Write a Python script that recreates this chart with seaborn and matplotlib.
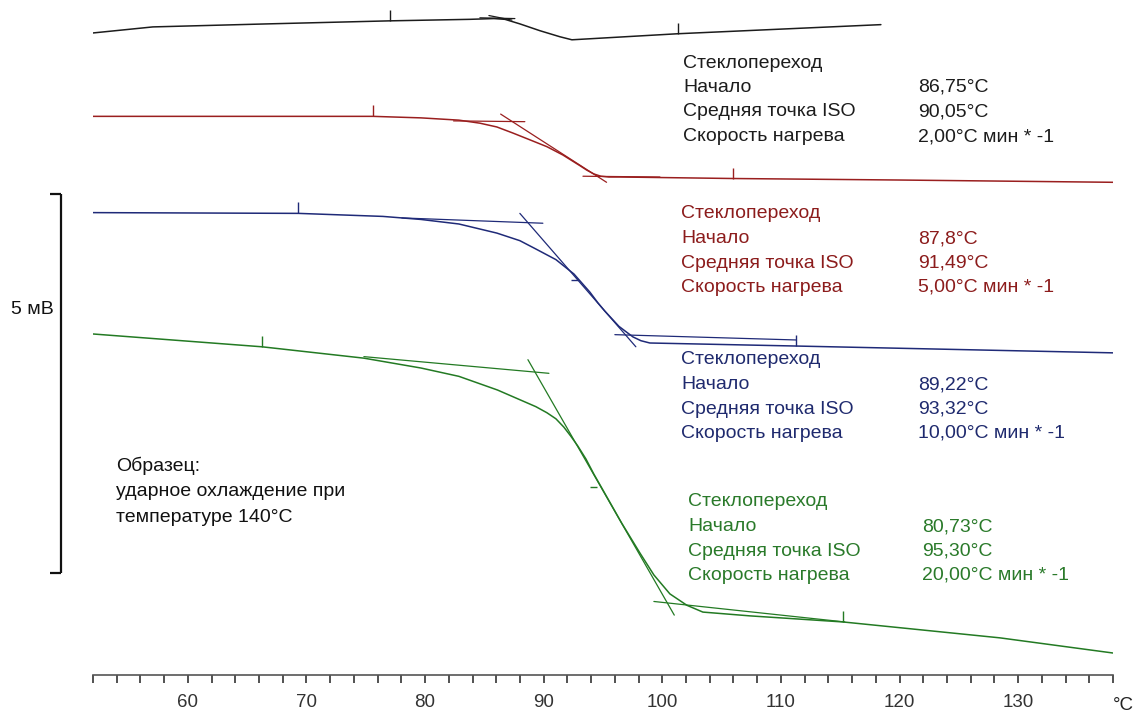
import matplotlib
matplotlib.use("Agg")
import matplotlib.pyplot as plt
import seaborn as sns
from matplotlib.ticker import MultipleLocator

# --- DSC curves: temperature (°C) and signal (mV, stacked offset) ---
t_black = [51.99, 57.05, 66.75, 77.03, 83.78, 85.80, 86.73, 87.99, 89.68, 91.37, 92.38, 101.32, 118.43]
mv_black = [8.47, 8.55, 8.59, 8.63, 8.65, 8.66, 8.65, 8.59, 8.50, 8.42, 8.38, 8.46, 8.58]

t_red = [51.99, 65.23, 75.60, 79.65, 82.85, 84.62, 86.05, 87.40, 88.84, 90.27, 91.62, 93.05,
         93.64, 94.23, 94.82, 95.49, 96.43, 105.95, 120.03, 138.0]
mv_red = [7.37, 7.37, 7.37, 7.35, 7.32, 7.28, 7.23, 7.15, 7.06, 6.97, 6.86, 6.72,
          6.66, 6.61, 6.58, 6.57, 6.57, 6.55, 6.53, 6.50]

t_blue = [51.99, 69.32, 76.44, 79.65, 82.85, 86.05, 87.99, 89.34, 91.03, 92.55, 93.90, 94.57,
          95.16, 95.75, 96.34, 96.93, 97.53, 98.20, 98.95, 111.27, 138.0]
mv_blue = [6.10, 6.09, 6.05, 6.01, 5.95, 5.83, 5.73, 5.62, 5.48, 5.29, 5.05, 4.91,
           4.80, 4.70, 4.60, 4.53, 4.46, 4.41, 4.38, 4.34, 4.25]

t_green = [51.91, 66.24, 74.84, 79.65, 82.85, 86.10, 89.34, 90.27, 91.03, 91.70, 92.29, 92.88,
           93.56, 94.23, 94.74, 96.59, 98.11, 99.29, 100.64, 102.07, 103.42, 107.39, 115.23,
           128.47, 138.0]
mv_green = [4.50, 4.33, 4.18, 4.05, 3.94, 3.76, 3.54, 3.46, 3.38, 3.27, 3.15, 3.02,
            2.85, 2.65, 2.51, 2.00, 1.61, 1.32, 1.07, 0.92, 0.83, 0.78, 0.70,
            0.49, 0.29]

# tangent construction lines (start/end temperature and signal)
tan_black = [([85.38, 87.32], [8.70, 8.64]), ([84.62, 87.57], [8.67, 8.66])]
tan_red = [([82.40, 88.41], [7.31, 7.30]), ([86.37, 95.30], [7.40, 6.50]), ([93.31, 99.80], [6.58, 6.57])]
tan_blue = [([78.04, 89.93], [6.03, 5.96]), ([87.99, 97.77], [6.09, 4.33]), ([96.00, 111.27], [4.49, 4.42])]
tan_green = [([74.84, 90.44], [4.20, 3.98]), ([88.67, 101.01], [4.16, 0.79]), ([99.29, 115.38], [0.97, 0.70])]

# integration limit marks and midpoint marks
lim_t = {"black": [77.03, 101.32], "red": [75.60, 105.95], "blue": [69.32, 111.27], "green": [66.24, 115.23]}
lim_mv = {"black": [8.63, 8.46], "red": [7.37, 6.55], "blue": [6.09, 4.34], "green": [4.33, 0.70]}
mid_t = {"blue": 92.88, "green": 94.49}
mid_mv = {"blue": 5.21, "green": 2.48}

labels = ["Стеклопереход", "Начало", "Средняя точка ISO", "Скорость нагрева"]
values = {
    "black": ["86,75°C", "90,05°C", "2,00°C мин * -1"],
    "red": ["87,8°C", "91,49°C", "5,00°C мин * -1"],
    "blue": ["89,22°C", "93,32°C", "10,00°C мин * -1"],
    "green": ["80,73°C", "95,30°C", "20,00°C мин * -1"],
}
colors = {"black": "#1c1c1c", "red": "#9a1f1f", "blue": "#1f2a78", "green": "#237a23"}
text_colors = {"black": "#1c1c1c", "red": "#8c1c1c", "blue": "#1f2a6e", "green": "#2a7a2a"}

scale_mv = [1.35, 6.35]   # 5 mV scale bar

W, H = 1136, 713
sns.set_theme(style="white")
plt.rcParams["font.family"] = ["Liberation Sans", "DejaVu Sans"]

fig = plt.figure(figsize=(W / 100, H / 100), dpi=100)
ax = fig.add_axes([93 / W, 38 / H, 1020 / W, 675 / H])

curves = {"black": (t_black, mv_black), "red": (t_red, mv_red),
          "blue": (t_blue, mv_blue), "green": (t_green, mv_green)}
tangents = {"black": tan_black, "red": tan_red, "blue": tan_blue, "green": tan_green}

for name, (t, mv) in curves.items():
    sns.lineplot(x=t, y=mv, ax=ax, color=colors[name], lw=1.1, sort=False, estimator=None)
    for tx, ty in tangents[name]:
        ax.plot(tx, ty, color=colors[name], lw=0.9)
    ax.plot(lim_t[name], lim_mv[name], ls="none", marker=2, ms=8, mew=1.0, color=colors[name])
    if name in mid_t:
        ax.plot([mid_t[name]], [mid_mv[name]], ls="none", marker=0, ms=5, mew=1.0, color=colors[name])

# scale bar on the left
ax.plot([49.3, 49.3], scale_mv, color="#111111", lw=1.6, clip_on=False, solid_capstyle="butt")
for y in scale_mv:
    ax.plot([48.4, 49.3], [y, y], color="#111111", lw=1.6, clip_on=False, solid_capstyle="butt")

ax.set_xlim(52, 138)
ax.set_ylim(0, 675 / 75.8)
ax.xaxis.set_major_locator(MultipleLocator(10))
ax.xaxis.set_minor_locator(MultipleLocator(2))
ax.tick_params(axis="x", which="both", direction="out", length=6, width=1.2, colors="#333333",
               labelsize=13.5, pad=8, bottom=True)
ax.tick_params(axis="y", left=False, labelleft=False)
for s in ["left", "top", "right"]:
    ax.spines[s].set_visible(False)
ax.spines["bottom"].set_color("#555555")
ax.spines["bottom"].set_linewidth(1.2)
ax.set_xlabel("")
ax.set_ylabel("")


def px(x, y):
    return x / W, 1 - y / H


FS = 14
fig.text(*px(1123, 705), "°C", fontsize=13.5, ha="center", va="center", color="#222222")
fig.text(*px(54, 310), "5 мВ", fontsize=FS, ha="right", va="center", color="#111111")

for i, line in enumerate(["Образец:", "ударное охлаждение при", "температуре 140°C"]):
    fig.text(*px(116, 466 + 25.5 * i), line, fontsize=FS, ha="left", va="center", color="#111111")

blocks = {"black": (683, 918, 63), "red": (681, 918, 214), "blue": (681, 918, 360), "green": (688, 922, 502)}
for name, (xl, xv, y0) in blocks.items():
    for i, lab in enumerate(labels):
        fig.text(*px(xl, y0 + 24.5 * i), lab, fontsize=FS, ha="left", va="center", color=text_colors[name])
        if i > 0:
            fig.text(*px(xv, y0 + 24.5 * i), values[name][i - 1], fontsize=FS, ha="left", va="center",
                     color=text_colors[name])

fig.savefig("out.png", dpi=100)
